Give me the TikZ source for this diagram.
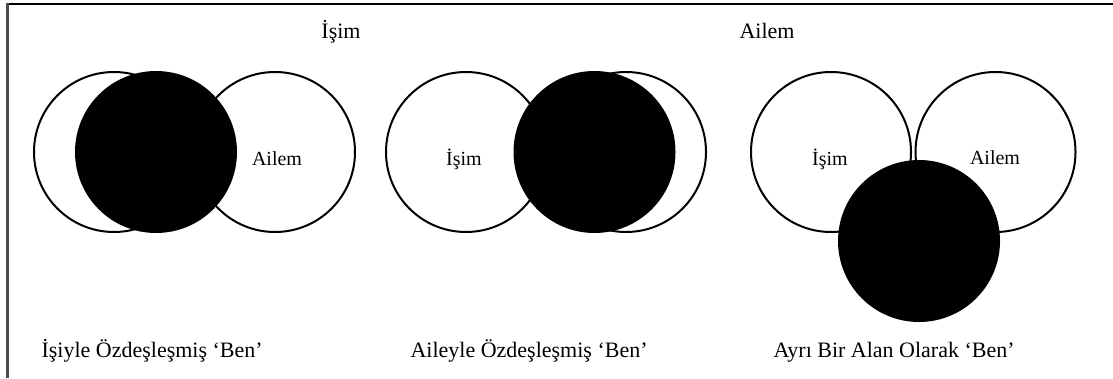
\documentclass[tikz,border=0pt]{standalone}
\usepackage{fontspec}
\setmainfont{Liberation Serif}

\begin{document}
\begin{tikzpicture}[x=1pt, y=-1pt,
  ring/.style={circle, draw, line width=2pt, fill=white, minimum size=160pt, inner sep=0pt},
  self/.style={circle, fill=black, minimum size=162pt, inner sep=0pt},
  inlbl/.style={anchor=base, font=\fontsize{20}{24}\selectfont},
  toplbl/.style={anchor=base, font=\fontsize{22}{26}\selectfont},
  caption/.style={anchor=base west, font=\fontsize{22}{26}\selectfont}]
  \useasboundingbox (0,0) rectangle (1113,378);

  % Frame (only top and left edges are visible)
  \draw[line width=2pt] (6,4) -- (1113,4);
  \draw[black!70, line width=3pt] (7,3) -- (7,378);

  % Headings
  \node[toplbl] (work) at (341,38) {İşim};
  \node[toplbl] (family) at (767,38) {Ailem};

  % Panel 1: self inside work
  \node[ring] (work1) at (114,152) {};
  \node[ring] (fam1) at (275,152) {};
  \node[self] (self1) at (156,152) {};
  \node[inlbl] (famlbl1) at (277,165) {Ailem};
  \node[caption] (cap1) at (38,357) {İşiyle Özdeşleşmiş ‘Ben’};

  % Panel 2: self inside family
  \node[ring] (work2) at (466,152) {};
  \node[ring] (fam2) at (626,152) {};
  \node[self] (self2) at (594.5,152) {};
  \node[inlbl] (worklbl2) at (464,165) {İşim};
  \node[caption] (cap2) at (407,357) {Aileyle Özdeşleşmiş ‘Ben’};

  % Panel 3: self as a separate area
  \node[ring] (work3) at (831,152) {};
  \node[ring] (fam3) at (995.5,152) {};
  \node[self] (self3) at (919,241) {};
  \node[inlbl] (worklbl3) at (830,165) {İşim};
  \node[inlbl] (famlbl3) at (995,164) {Ailem};
  \node[caption] (cap3) at (770,357) {Ayrı Bir Alan Olarak ‘Ben’};
\end{tikzpicture}
\end{document}
